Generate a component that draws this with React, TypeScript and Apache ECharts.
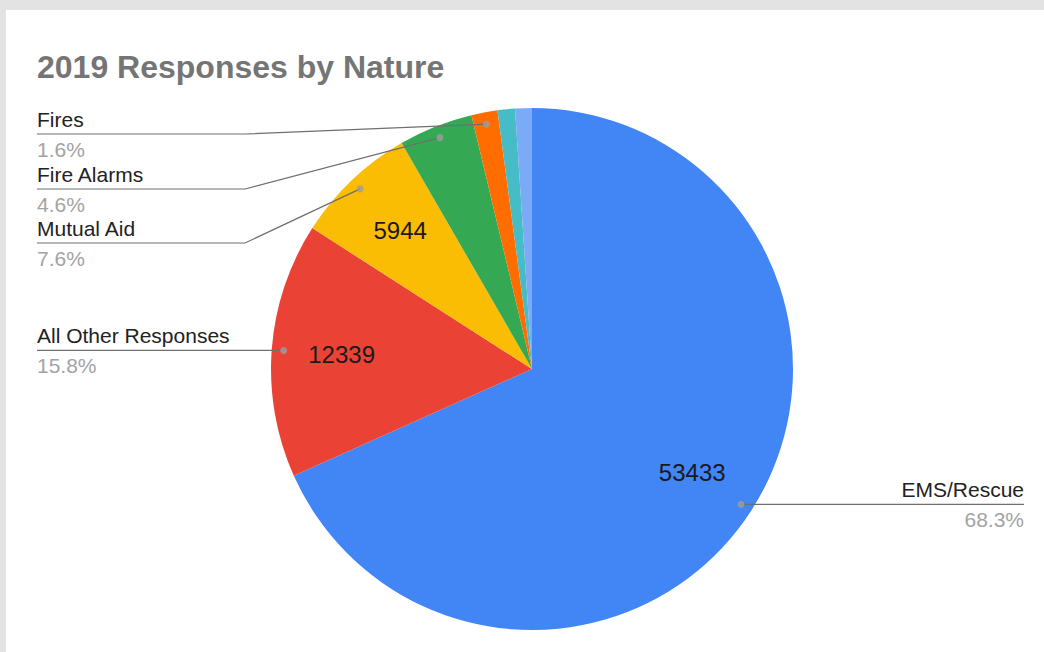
import React, { useEffect, useRef } from "react";
import * as echarts from "echarts";

const TITLE = "2019 Responses by Nature";
const categories = [
  "EMS/Rescue",
  "All Other Responses",
  "Mutual Aid",
  "Fire Alarms",
  "Fires",
  "Hazardous Conditions",
  "Service Calls",
];
const values = [53433, 12339, 5944, 3598, 1262, 845, 810];
const colors = ["#4285F4", "#EA4335", "#FBBC04", "#34A853", "#FF6D01", "#46BDC6", "#7BAAF7"];
const outerLabelShown = [true, true, true, true, true, false, false];
const innerLabelShown = [true, true, true, false, false, false, false];

// layout (pixels inside the 1044x652 chart)
const FONT = '"Liberation Sans", Arial, sans-serif';
const CX = 532;
const CY = 369;
const R = 261;
const DOT_RATIO = 0.954;
const LEFT_X = 37;
const RIGHT_X = 1024;
const BEND_X = 245;
const STACK_Y: Record<number, number> = { 4: 134, 3: 189, 2: 243 };

export default function App() {
  const ref = useRef<HTMLDivElement>(null);

  useEffect(() => {
    if (!ref.current) return;
    const chart = echarts.init(ref.current, null, { renderer: "svg" });
    const total = values.reduce((a, b) => a + b, 0);
    const dots: number[][] = [];
    let cum = 0;
    values.forEach((v, i) => {
      if (outerLabelShown[i]) dots.push([DOT_RATIO, cum + v / 2]);
      cum += v;
    });

    const labelLayout = (params: any) => {
      const i = params.dataIndex;
      const pts = params.labelLinePoints;
      if (!pts || !pts[0]) return {};
      const p0 = pts[0];
      const dx = p0[0] - CX;
      const dy = p0[1] - CY;
      const len = Math.sqrt(dx * dx + dy * dy) || 1;
      const dot = [CX + (dx / len) * R * DOT_RATIO, CY + (dy / len) * R * DOT_RATIO];
      const right = dot[0] > CX;
      const stacked = STACK_Y[i] != null;
      const y = stacked ? STACK_Y[i] : dot[1];
      const endX = right ? RIGHT_X : LEFT_X;
      const mid = stacked ? [BEND_X, y] : [(dot[0] + endX) / 2, y];
      return {
        x: endX,
        y,
        align: right ? "right" : "left",
        verticalAlign: "middle",
        labelLinePoints: [dot, mid, [endX, y]],
      };
    };

    chart.setOption({
      animation: false,
      backgroundColor: "transparent",
      title: {
        text: TITLE,
        left: 37,
        top: 51,
        padding: 0,
        textStyle: { fontFamily: FONT, fontSize: 32, fontWeight: "bold", color: "#757575" },
      },
      polar: { center: [CX, CY], radius: R },
      angleAxis: {
        type: "value",
        min: 0,
        max: total,
        startAngle: 90,
        clockwise: true,
        show: false,
        axisLine: { show: false },
        axisTick: { show: false },
        axisLabel: { show: false },
        splitLine: { show: false },
      },
      radiusAxis: {
        type: "value",
        min: 0,
        max: 1,
        show: false,
        axisLine: { show: false },
        axisTick: { show: false },
        axisLabel: { show: false },
        splitLine: { show: false },
      },
      series: [
        {
          // coloured slices
          type: "pie",
          z: 1,
          center: [CX, CY],
          radius: R,
          startAngle: 90,
          clockwise: true,
          silent: true,
          emphasis: { disabled: true },
          data: values.map((v, i) => ({
            name: categories[i],
            value: v,
            itemStyle: { color: colors[i] },
          })),
          label: { show: false },
          labelLine: { show: false },
        },
        {
          // outside labels with leader lines
          type: "pie",
          z: 3,
          center: [CX, CY],
          radius: R,
          startAngle: 90,
          clockwise: true,
          percentPrecision: 1,
          silent: true,
          avoidLabelOverlap: false,
          emphasis: { disabled: true },
          data: values.map((v, i) => ({
            name: categories[i],
            value: v,
            itemStyle: { color: "transparent" },
            label: { show: outerLabelShown[i] },
            labelLine: { show: outerLabelShown[i] },
          })),
          label: {
            show: true,
            position: "outside",
            formatter: (p: any) => `{n|${p.name}}\n{p|${Number(p.percent).toFixed(1)}%}`,
            rich: {
              n: { fontFamily: FONT, fontSize: 21, color: "#222222", lineHeight: 30 },
              p: { fontFamily: FONT, fontSize: 21, color: "#a3a3a3", lineHeight: 30 },
            },
          },
          labelLine: { show: true, lineStyle: { color: "#6f6f6f", width: 1.2 } },
          labelLayout,
        },
        {
          // values inside the slices
          type: "pie",
          z: 3,
          center: [CX, CY],
          radius: [R * 0.44, R],
          startAngle: 90,
          clockwise: true,
          silent: true,
          emphasis: { disabled: true },
          data: values.map((v, i) => ({
            name: categories[i],
            value: v,
            itemStyle: { color: "transparent" },
            label: { show: innerLabelShown[i] },
          })),
          label: {
            position: "inside",
            formatter: (p: any) => String(p.value),
            fontFamily: FONT,
            fontSize: 24,
            color: "#1a1a1a",
          },
          labelLine: { show: false },
        },
        {
          type: "scatter",
          coordinateSystem: "polar",
          data: dots,
          symbolSize: 7,
          itemStyle: { color: "#9e9e9e" },
          silent: true,
          z: 5,
        },
      ],
    });

    return () => chart.dispose();
  }, []);

  return (
    <div
      style={{
        position: "absolute",
        left: 0,
        top: 0,
        width: 1044,
        height: 652,
        background: "#e3e3e3",
        overflow: "hidden",
      }}
    >
      <div
        style={{
          position: "absolute",
          left: 6,
          top: 10,
          right: 0,
          bottom: 0,
          background: "#ffffff",
        }}
      />
      <div ref={ref} style={{ position: "absolute", left: 0, top: 0, width: 1044, height: 652 }} />
    </div>
  );
}
